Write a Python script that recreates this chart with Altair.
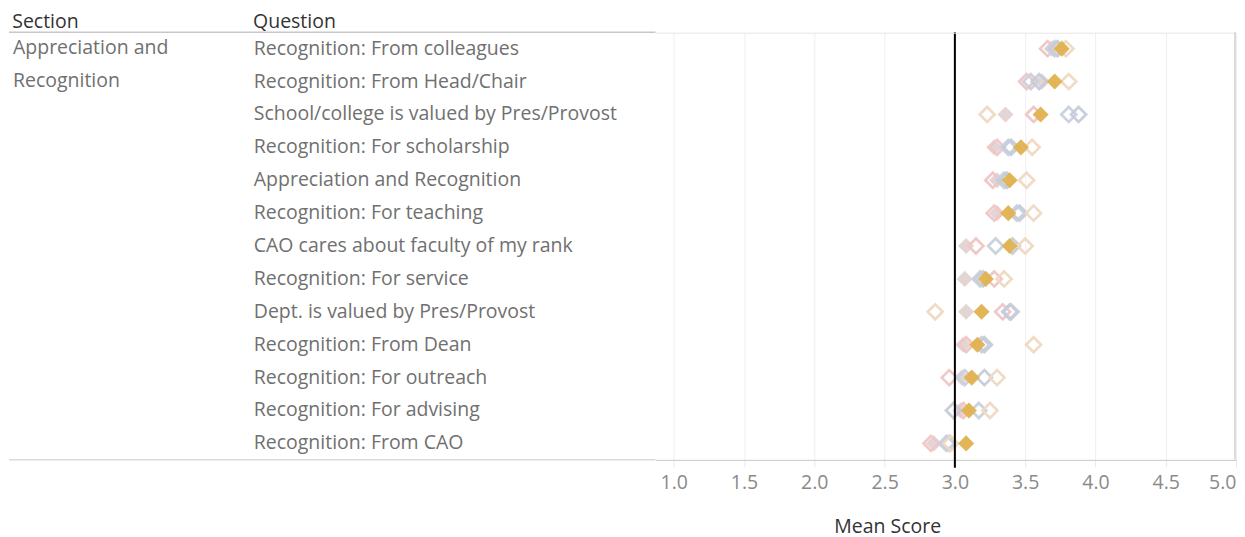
import altair as alt
import pandas as pd

questions = [
    "Recognition: From colleagues",
    "Recognition: From Head/Chair",
    "School/college is valued by Pres/Provost",
    "Recognition: For scholarship",
    "Appreciation and Recognition",
    "Recognition: For teaching",
    "CAO cares about faculty of my rank",
    "Recognition: For service",
    "Dept. is valued by Pres/Provost",
    "Recognition: From Dean",
    "Recognition: For outreach",
    "Recognition: For advising",
    "Recognition: From CAO",
]
section_name = ["Appreciation and", "Recognition"]

# series values, one per question (top to bottom)
institution = [3.76, 3.71, 3.61, 3.47, 3.39, 3.38, 3.39, 3.22, 3.19, 3.16, 3.12, 3.10, 3.08]
peer_a = [3.69, 3.62, 3.36, 3.28, 3.30, 3.30, 3.08, 3.07, 3.08, 3.06, 3.05, 3.04, 2.85]
peer_b = [3.66, 3.51, 3.56, 3.30, 3.27, 3.28, 3.15, 3.28, 3.34, 3.08, 2.96, 3.06, 2.83]
peer_c = [3.71, 3.54, 3.81, 3.38, 3.35, 3.44, 3.29, 3.18, 3.40, 3.19, 3.07, 3.17, 2.94]
peer_d = [3.73, 3.60, 3.88, 3.40, 3.37, 3.46, 3.41, 3.20, 3.39, 3.21, 3.21, 2.99, 2.96]
peer_e = [3.79, 3.81, 3.23, 3.55, 3.51, 3.56, 3.50, 3.35, 2.86, 3.56, 3.30, 3.25, 2.97]

series_names = ["Peer A", "Peer B", "Peer C", "Peer D", "Peer E", "Institution"]
series_values = [peer_a, peer_b, peer_c, peer_d, peer_e, institution]
series_colors = ["#e3d3d3", "#f1c6c6", "#c9d1de", "#c6ccda", "#f0dac3", "#e0b24f"]
series_filled = [True, False, False, False, False, True]

ref_value = [3.0]
tick_values = [1.0, 1.5, 2.0, 2.5, 3.0, 3.5, 4.0, 4.5, 5.0]

rows = []
for name, vals in zip(series_names, series_values):
    for q, v in zip(questions, vals):
        rows.append({"Series": name, "Question": q, "Mean Score": v})
df = pd.DataFrame(rows)

qdf = pd.DataFrame({"Question": questions})
sdf = pd.DataFrame({"Question": [questions[0]], "Section": [section_name]})
refdf = pd.DataFrame({"ref": ref_value})

FONT = "Open Sans"
FS = 19.5
H = 428
ROW = H / len(questions)
yscale = alt.Scale(type="point", domain=questions, padding=0.5)
line_col = "#c8c8c8"

def hline(w, y, color, sw=1.0):
    return alt.Chart(qdf.head(1)).mark_rule(color=color, strokeWidth=sw).encode(
        x=alt.value(0), x2=alt.value(w), y=alt.value(y)
    )

# Section panel
WS = 245
sec_text = alt.Chart(sdf).mark_text(
    align="left", baseline="line-top", font=FONT, fontSize=FS, color="#707070",
    lineHeight=ROW, dy=-ROW / 2
).encode(
    x=alt.value(4),
    y=alt.Y("Question:N", scale=yscale, axis=None),
    text="Section:N",
)
sec = alt.layer(sec_text, hline(WS, 0, line_col, 1.5), hline(WS, H, line_col)).properties(
    width=WS, height=H,
    title=alt.TitleParams("Section", anchor="start", fontSize=FS, font=FONT,
                          fontWeight="normal", color="#333333", dx=4, offset=-1),
    view=alt.ViewBackground(stroke=None),
)

# Question panel
WQ = 402
q_text = alt.Chart(qdf).mark_text(
    align="left", baseline="middle", font=FONT, fontSize=FS, color="#707070"
).encode(
    x=alt.value(0),
    y=alt.Y("Question:N", scale=yscale, axis=None),
    text="Question:N",
)
qpanel = alt.layer(q_text, hline(WQ, 0, line_col, 1.5), hline(WQ, H, line_col)).properties(
    width=WQ, height=H,
    title=alt.TitleParams("Question", anchor="start", fontSize=FS, font=FONT,
                          fontWeight="normal", color="#333333", offset=-1),
    view=alt.ViewBackground(stroke=None),
)

# Plot panel
WP = 581
xscale = alt.Scale(domain=[0.87, 5.0], nice=False, zero=False)
xaxis = alt.Axis(
    values=tick_values, format=".1f", grid=True, gridColor="#efefef",
    tickColor="#e8e8e8", tickSize=7, domainColor=line_col, labelFlush=True,
    labelFont=FONT, labelFontSize=FS, labelColor="#8a8a8a", labelPadding=7,
    title="Mean Score", titleFont=FONT, titleFontSize=FS, titleFontWeight="normal",
    titleColor="#333333", titleX=232, titleY=67, titleBaseline="middle",
)

base_grid = alt.Chart(qdf).mark_point(opacity=0).encode(
    x=alt.X("ref:Q", scale=xscale, axis=xaxis),
    y=alt.Y("Question:N", scale=yscale, axis=None),
).transform_calculate(ref="3")

layers = [base_grid]
for name, color, filled in zip(series_names, series_colors, series_filled):
    if filled:
        mk = alt.Chart(df).mark_point(shape="diamond", filled=True, size=260,
                                      color=color, opacity=0.95)
    else:
        mk = alt.Chart(df).mark_point(shape="diamond", filled=False, size=225,
                                      color=color, strokeWidth=2.7, opacity=0.95)
    layers.append(
        mk.transform_filter(alt.datum.Series == name).encode(
            x=alt.X("Mean Score:Q", scale=xscale),
            y=alt.Y("Question:N", scale=yscale, axis=None),
            tooltip=["Series:N", "Question:N", "Mean Score:Q"],
        )
    )

ref_rule = alt.Chart(refdf).mark_rule(color="black", strokeWidth=2).encode(
    x=alt.X("ref:Q", scale=xscale), y=alt.value(0), y2=alt.value(H + 8)
)
top_border = hline(WP, 1, "#e6e6e6")
right_border = alt.Chart(qdf.head(1)).mark_rule(color="#d0d0d0", strokeWidth=1.5).encode(
    x=alt.value(WP - 1), y=alt.value(0), y2=alt.value(H)
)
layers += [ref_rule, top_border, right_border]

plot = alt.layer(*layers).properties(
    width=WP, height=H, view=alt.ViewBackground(stroke=None)
)

chart = alt.hconcat(sec, qpanel, plot, spacing=0, bounds="flush").properties(
    padding={"top": 3, "left": 0, "right": 0, "bottom": 2}
).configure_view(stroke=None)

chart.save("out.html", embed_options={"renderer": "svg", "actions": False})
